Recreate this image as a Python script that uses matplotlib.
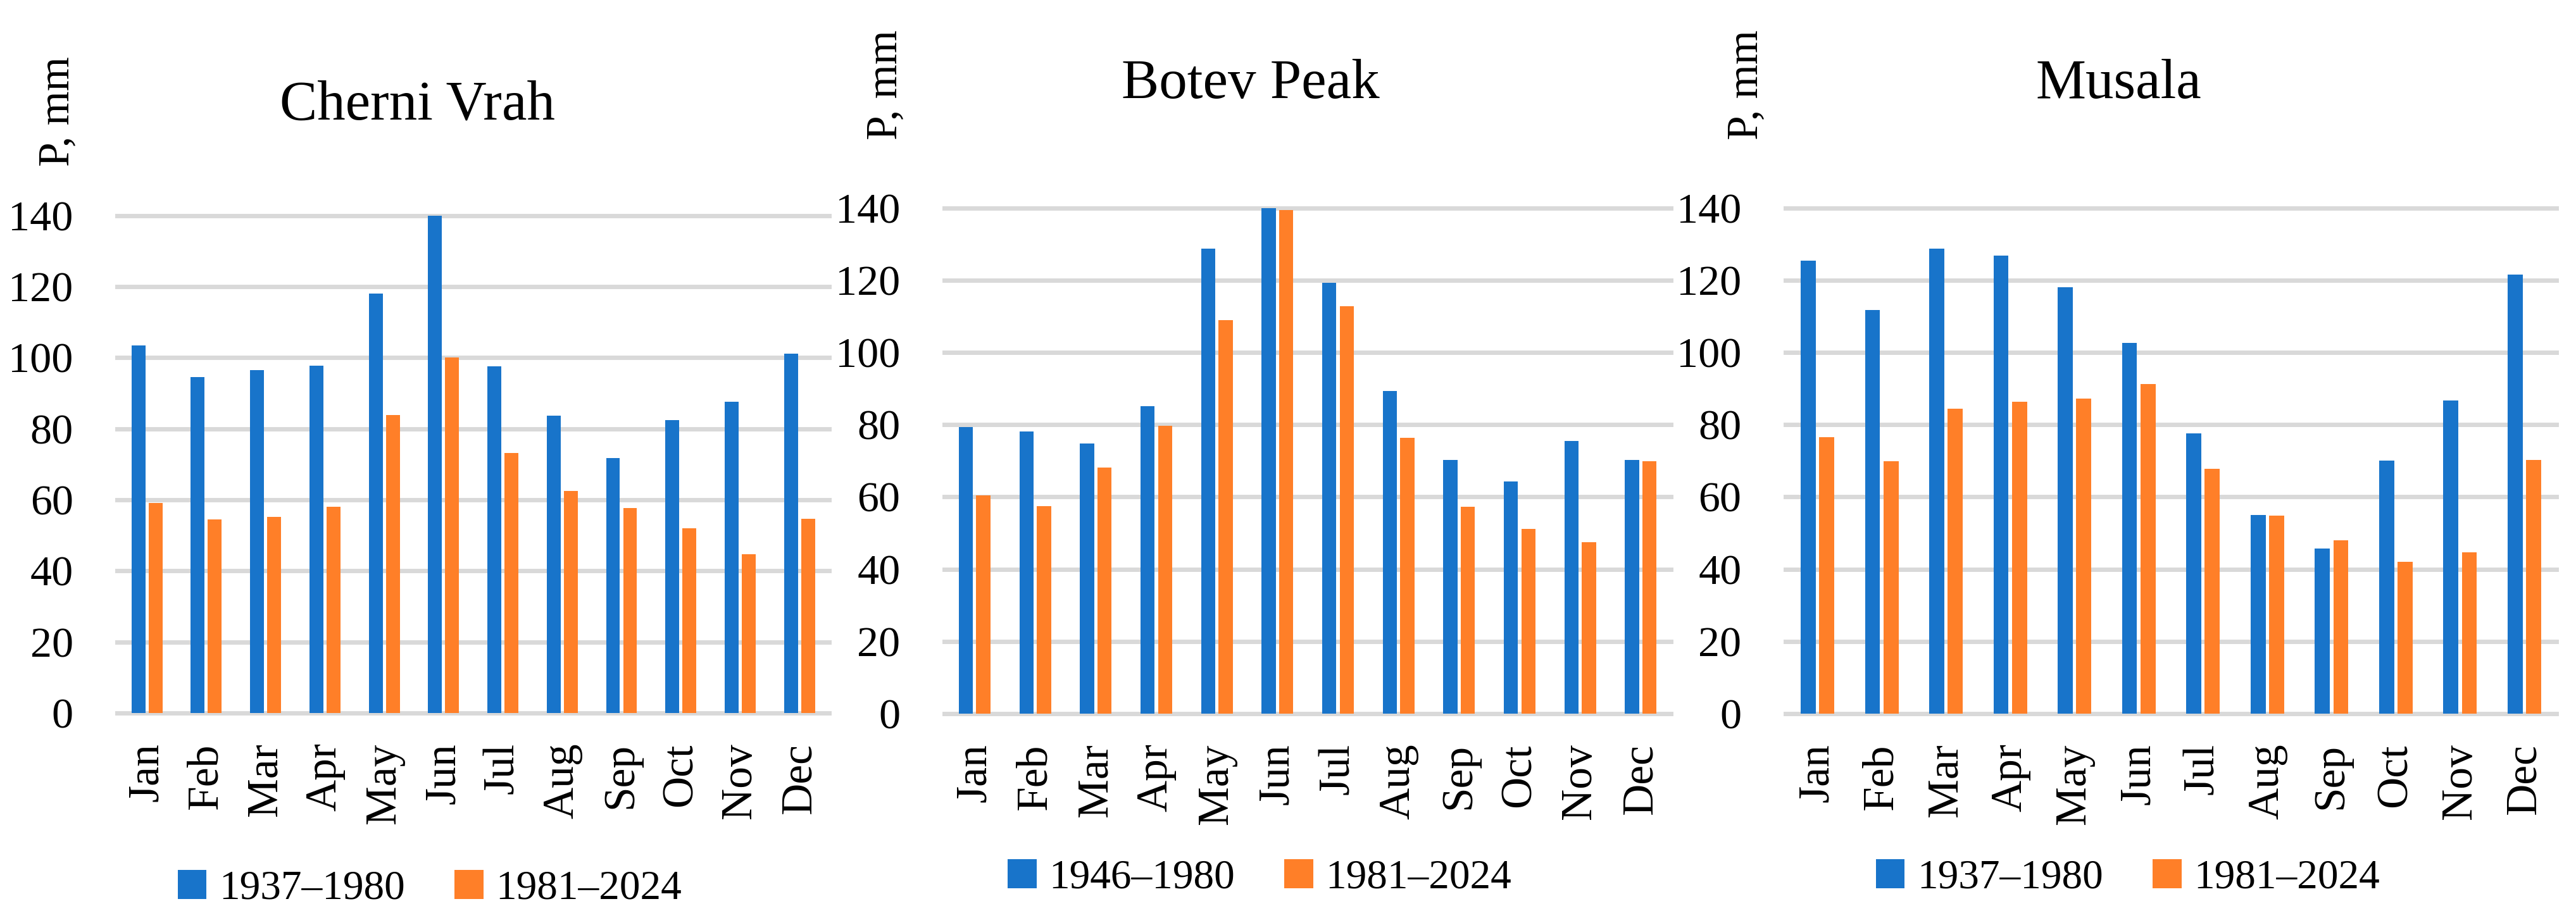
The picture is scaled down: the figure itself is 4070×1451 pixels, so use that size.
import numpy as np
import matplotlib.pyplot as plt

plt.rcParams['font.family'] = ['Liberation Serif', 'DejaVu Serif']

months = ["Jan", "Feb", "Mar", "Apr", "May", "Jun", "Jul", "Aug", "Sep", "Oct", "Nov", "Dec"]

titles = ["Cherni Vrah", "Botev Peak", "Musala"]
old_labels = ["1937–1980", "1946–1980", "1937–1980"]
new_label = "1981–2024"

cherni_old = [103.4, 94.5, 96.4, 97.8, 118.1, 140.0, 97.5, 83.7, 71.8, 82.4, 87.6, 101.1]
cherni_new = [59.1, 54.4, 55.2, 58.0, 83.8, 100.0, 73.1, 62.4, 57.7, 51.9, 44.6, 54.7]

botev_old = [79.4, 78.1, 74.7, 85.1, 128.7, 140.0, 119.3, 89.3, 70.2, 64.2, 75.4, 70.3]
botev_new = [60.4, 57.4, 68.2, 79.7, 108.9, 139.4, 112.8, 76.3, 57.2, 51.2, 47.5, 69.8]

musala_old = [125.4, 111.7, 128.7, 126.7, 118.0, 102.7, 77.6, 54.9, 45.7, 70.0, 86.7, 121.5]
musala_new = [76.5, 69.8, 84.4, 86.4, 87.2, 91.2, 67.7, 54.8, 48.0, 42.0, 44.6, 70.2]

yticks = [0, 20, 40, 60, 80, 100, 120, 140]

blue = "#1874CA"
orange = "#FF7F28"
grid_c = "#D9D9D9"

fig = plt.figure(figsize=(40.7, 14.51), dpi=100)

# axes rectangles, title / ylabel / legend positions (figure fractions)
rects = [[0.0455, 0.2233, 0.2764, 0.5420],
         [0.3666, 0.2226, 0.2821, 0.5510],
         [0.6931, 0.2226, 0.2993, 0.5510]]
title_xy = [(0.162, 0.8852), (0.4855, 0.9077), (0.8224, 0.9077)]
ylab_xy = [(0.0224, 0.8787), (0.3437, 0.9077), (0.678, 0.9077)]
leg_xy = [(0.1668, 0.0317), (0.489, 0.0434), (0.826, 0.0434)]

data = [(cherni_old, cherni_new), (botev_old, botev_new), (musala_old, musala_new)]

x = np.arange(len(months))
w = 0.234
off = 0.144

for i in range(3):
    ax = fig.add_axes(rects[i])
    old, new = data[i]
    for yv in yticks:
        ax.axhline(yv, color=grid_c, lw=5, zorder=0, clip_on=False)
    b1 = ax.bar(x - off, old, w, color=blue, label=old_labels[i], zorder=2)
    b2 = ax.bar(x + off, new, w, color=orange, label=new_label, zorder=2)
    ax.set_xlim(-0.5, 11.5)
    ax.set_ylim(0, 140)
    ax.set_yticks(yticks)
    ax.set_yticklabels([str(v) for v in yticks], fontsize=49)
    ax.set_xticks(x)
    ax.set_xticklabels(months, rotation=90, fontsize=50)
    ax.tick_params(axis='y', length=0, pad=50)
    ax.tick_params(axis='x', length=0, pad=34)
    for s in ax.spines.values():
        s.set_visible(False)
    ax.set_facecolor('none')

    fig.text(title_xy[i][0], title_xy[i][1], titles[i], fontsize=64,
             ha='center', va='center')
    fig.text(ylab_xy[i][0], ylab_xy[i][1], "P, mm", fontsize=50,
             rotation=90, ha='center', va='center')
    fig.legend(handles=[b1, b2], loc='center', bbox_to_anchor=leg_xy[i],
               ncol=2, frameon=False, fontsize=47, handlelength=0.7,
               handleheight=0.7, handletextpad=0.3, columnspacing=1.2)

fig.savefig("out.png", dpi=100)
